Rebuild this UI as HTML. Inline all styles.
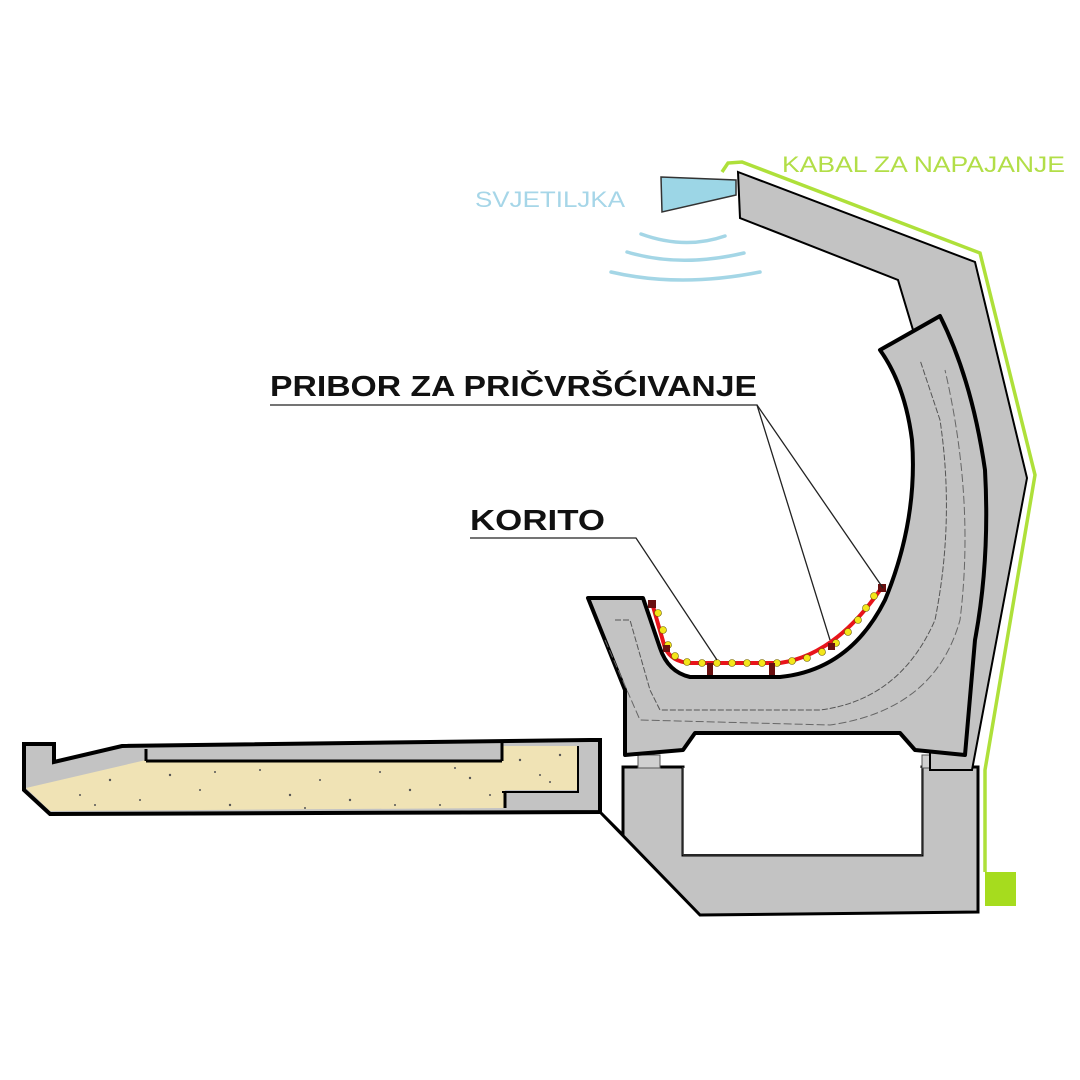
<!DOCTYPE html>
<html><head><meta charset="utf-8"><style>
html,body{margin:0;padding:0;background:#fff;}
svg{display:block;}
text{font-family:"Liberation Sans",Arial,sans-serif;}
</style></head><body>
<svg width="1080" height="1080" viewBox="0 0 1080 1080" xmlns="http://www.w3.org/2000/svg">
<rect width="1080" height="1080" fill="#fff"/>

<!-- pier / base -->
<path d="M600,812 L623,835 L623,767 L683,767 L683,855 L922,855 L922,767 L978,767 L978,912 L700,915 Z" fill="#c3c3c3" stroke="#000" stroke-width="3"/>
<rect x="683" y="768" width="239" height="86" fill="#fff"/>
<line x1="683" y1="855" x2="922" y2="855" stroke="#333" stroke-width="1.5"/>
<line x1="683" y1="767" x2="683" y2="855" stroke="#333" stroke-width="1.5"/>
<line x1="922" y1="767" x2="922" y2="855" stroke="#333" stroke-width="1.5"/>
<!-- bearings -->
<rect x="638" y="755" width="22" height="13" fill="#d0d0d0" stroke="#555" stroke-width="1"/>
<rect x="922" y="755" width="26" height="13" fill="#d0d0d0" stroke="#555" stroke-width="1"/>

<!-- deck slab -->
<path d="M24,744 L54,744 L54,762 L122,746 L590,740 L600,740 L600,812 L50,814 L24,790 Z" fill="#c3c3c3" stroke="#000" stroke-width="4"/>
<path d="M26,788 L146,760 L502,760 L502,746 L578,746 L578,790 L505,790 L505,808 L50,811 Z" fill="#f0e3b5"/>
<line x1="146" y1="749" x2="146" y2="761" stroke="#000" stroke-width="3"/>
<line x1="146" y1="761" x2="502" y2="761" stroke="#000" stroke-width="3"/>
<line x1="502" y1="743" x2="502" y2="761" stroke="#000" stroke-width="3"/>
<path d="M502,792 L578,792 L578,746" fill="none" stroke="#000" stroke-width="2"/>
<path d="M505,792 L505,808" stroke="#000" stroke-width="3"/>
<g fill="#555">
<circle cx="80" cy="795" r="1"/><circle cx="110" cy="780" r="1.2"/><circle cx="140" cy="800" r="1"/><circle cx="170" cy="775" r="1.2"/><circle cx="200" cy="790" r="1"/><circle cx="230" cy="805" r="1.2"/><circle cx="260" cy="770" r="1"/><circle cx="290" cy="795" r="1.2"/><circle cx="320" cy="780" r="1"/><circle cx="350" cy="800" r="1.2"/><circle cx="380" cy="772" r="1"/><circle cx="410" cy="790" r="1.2"/><circle cx="440" cy="805" r="1"/><circle cx="470" cy="778" r="1.2"/><circle cx="490" cy="795" r="1"/><circle cx="520" cy="760" r="1.2"/><circle cx="540" cy="775" r="1"/><circle cx="560" cy="755" r="1.2"/><circle cx="550" cy="782" r="1"/><circle cx="95" cy="805" r="1"/><circle cx="215" cy="772" r="1"/><circle cx="305" cy="808" r="1"/><circle cx="395" cy="805" r="1"/><circle cx="455" cy="768" r="1"/>
</g>

<!-- arm -->
<path d="M738,172 L975,262 L1027,478 L972,770 L930,770 L930,500 L913,330 L898,280 L740,218 Z" fill="#c3c3c3" stroke="#000" stroke-width="2"/>

<!-- C body -->
<path d="M588,598 L643,598 L660,648 Q668,672 690,677 L780,677 Q850,670 885,600 Q918,520 912,440 Q905,385 880,350 L940,316 Q972,380 985,470 Q990,560 975,640 L965,755 L915,750 L900,733 L695,733 L683,750 L625,755 L625,690 Z" fill="#c3c3c3" stroke="#000" stroke-width="4" stroke-linejoin="round"/>
<path d="M615,620 L630,620 L650,690 L660,710 L820,710 Q900,700 935,620 Q955,520 940,420 L920,360" fill="none" stroke="#555" stroke-width="1" stroke-dasharray="6,2"/>
<path d="M605,640 L640,720 L830,725 Q935,710 960,620 Q975,500 945,370" fill="none" stroke="#666" stroke-width="1" stroke-dasharray="8,3"/>

<!-- red cable -->
<path d="M652,603 L665,648 Q672,662 690,663 L780,663 Q835,655 880,590" fill="none" stroke="#e8141b" stroke-width="4"/>
<g fill="#f3e61a" stroke="#6a5a00" stroke-width="0.6">
<circle cx="658" cy="613" r="3.5"/><circle cx="663" cy="630" r="3.5"/><circle cx="668" cy="645" r="3.5"/><circle cx="675" cy="656" r="3.5"/><circle cx="687" cy="662" r="3.5"/><circle cx="702" cy="663" r="3.5"/><circle cx="717" cy="663" r="3.5"/><circle cx="732" cy="663" r="3.5"/><circle cx="747" cy="663" r="3.5"/><circle cx="762" cy="663" r="3.5"/><circle cx="777" cy="663" r="3.5"/><circle cx="792" cy="661" r="3.5"/><circle cx="807" cy="658" r="3.5"/><circle cx="822" cy="652" r="3.5"/><circle cx="836" cy="643" r="3.5"/><circle cx="848" cy="632" r="3.5"/><circle cx="858" cy="620" r="3.5"/><circle cx="866" cy="608" r="3.5"/><circle cx="874" cy="596" r="3.5"/>
</g>
<g fill="#6a1010">
<rect x="648" y="600" width="8" height="8"/><rect x="663" y="645" width="7" height="7"/><rect x="707" y="663" width="6" height="12"/><rect x="769" y="663" width="6" height="12"/><rect x="828" y="643" width="7" height="7"/><rect x="878" y="584" width="8" height="8"/>
</g>

<!-- green cable -->
<path d="M722,172 L728,163 L742,162 L980,253 L1035,475 L985,770 L985,872" fill="none" stroke="#aee03a" stroke-width="3.5"/>
<rect x="985" y="872" width="31" height="34" fill="#a6dc1e"/>

<!-- lamp -->
<path d="M661,177 L736,180 L736,195 L662,212 Z" fill="#9cd6e6" stroke="#333" stroke-width="1.5"/>
<g fill="none" stroke="#a4d6e6" stroke-width="3.5" stroke-linecap="round">
<path d="M641,234 Q685,250 725,236"/>
<path d="M627,252 Q680,268 744,253"/>
<path d="M611,272 Q680,288 760,272"/>
</g>

<!-- labels -->
<text x="475" y="207" font-size="22" fill="#a6d6e8" textLength="150" lengthAdjust="spacingAndGlyphs">SVJETILJKA</text>
<text x="782" y="172" font-size="22" fill="#b2de48" textLength="283" lengthAdjust="spacingAndGlyphs">KABAL ZA NAPAJANJE</text>
<text x="270" y="396" font-size="29" font-weight="bold" fill="#111" textLength="487" lengthAdjust="spacingAndGlyphs">PRIBOR ZA PRIČVRŠĆIVANJE</text>
<text x="470" y="530" font-size="29" font-weight="bold" fill="#111" textLength="135" lengthAdjust="spacingAndGlyphs">KORITO</text>
<g stroke="#222" stroke-width="1.3" fill="none">
<path d="M270,405 L757,405 L830,640"/>
<path d="M757,405 L883,588"/>
<path d="M470,538 L636,538 L717,660"/>
</g>
</svg>
</body></html>
